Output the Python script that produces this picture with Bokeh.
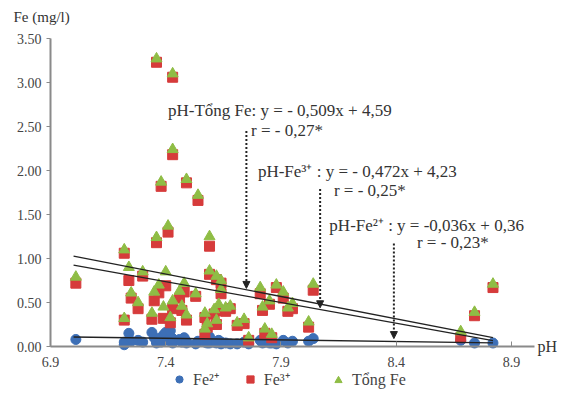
from bokeh.plotting import figure
from bokeh.models import (ColumnDataSource, Range1d, Legend, LegendItem, Label,
                          Arrow, NormalHead, FixedTicker, CustomJSTickFormatter)
from bokeh.embed import file_html
from bokeh.resources import INLINE

# ---- data ----
ph = [7.01, 7.22, 7.24, 7.25, 7.28, 7.22, 7.30, 7.35, 7.34, 7.36,
      7.36, 7.38, 7.39, 7.37, 7.40, 7.41, 7.42, 7.43, 7.43, 7.43,
      7.46, 7.48, 7.47, 7.49, 7.49, 7.53, 7.54, 7.57, 7.57, 7.59,
      7.59, 7.62, 7.61, 7.63, 7.64, 7.64, 7.58, 7.62, 7.66, 7.68,
      7.71, 7.74, 7.76, 7.81, 7.82, 7.83, 7.85, 7.86, 7.88, 7.91,
      7.93, 7.95, 8.04, 8.02, 8.68, 8.74, 8.82]
fe2 = [0.08, 0.05, 0.15, 0.06, 0.07, 0.02, 0.05, 0.10, 0.16, 0.04,
       0.06, 0.05, 0.13, 0.09, 0.16, 0.07, 0.18, 0.04, 0.06, 0.09,
       0.08, 0.10, 0.05, 0.04, 0.06, 0.03, 0.06, 0.06, 0.05, 0.11,
       0.04, 0.04, 0.05, 0.07, 0.05, 0.03, 0.04, 0.05, 0.04, 0.03,
       0.03, 0.05, 0.03, 0.07, 0.04, 0.05, 0.04, 0.04, 0.03, 0.07,
       0.04, 0.06, 0.09, 0.06, 0.07, 0.04, 0.04]
fe3 = [0.72, 1.06, 0.75, 0.55, 0.43, 0.30, 0.80, 0.52, 0.31, 3.23,
       1.18, 1.82, 0.32, 0.61, 0.69, 1.30, 0.27, 3.06, 2.18, 0.43,
       0.55, 0.62, 0.41, 1.86, 0.30, 0.57, 1.66, 0.14, 0.33, 1.14,
       0.82, 0.76, 0.37, 0.41, 0.60, 0.72, 0.22, 0.25, 0.40, 0.43,
       0.24, 0.26, 0.07, 0.60, 0.41, 0.15, 0.48, 0.10, 0.67, 0.55,
       0.40, 0.43, 0.64, 0.22, 0.10, 0.35, 0.67]
tong = [0.79, 1.10, 0.90, 0.61, 0.50, 0.32, 0.85, 0.62, 0.38, 3.27,
        1.24, 1.87, 0.45, 0.70, 0.85, 1.37, 0.33, 3.10, 2.24, 0.52,
        0.63, 0.72, 0.46, 1.90, 0.36, 0.60, 1.72, 0.20, 0.38, 1.25,
        0.86, 0.80, 0.42, 0.48, 0.65, 0.75, 0.26, 0.30, 0.44, 0.46,
        0.27, 0.31, 0.10, 0.67, 0.45, 0.20, 0.52, 0.14, 0.70, 0.62,
        0.44, 0.49, 0.71, 0.28, 0.17, 0.39, 0.71]

# regression lines (slope, intercept) and extents
reg_names = ["Tổng Fe", "Fe³⁺", "Fe²⁺"]
reg_slope = [-0.509, -0.472, -0.036]
reg_icpt = [4.59, 4.23, 0.36]
reg_x = [7.0, 8.82]

x_ticks = [6.9, 7.4, 7.9, 8.4, 8.9]
y_ticks = [0.0, 0.5, 1.0, 1.5, 2.0, 2.5, 3.0, 3.5]

# annotation texts
eq_lines = [
    ["pH-Tổng Fe: y = - 0,509x + 4,59", "r = - 0,27*"],
    ["pH-Fe³⁺ : y = - 0,472x + 4,23", "r = - 0,25*"],
    ["pH-Fe²⁺ : y = -0,036x + 0,36", "r = - 0,23*"],
]
eq_x = [7.41, 7.80, 8.11]
eq_y = [2.57, 1.88, 1.27]
r_x = [7.77, 8.13, 8.49]
r_y = [2.35, 1.67, 1.07]
arrow_x = [7.75, 8.07, 8.39]
arrow_top = [2.45, 1.79, 1.17]
arrow_end = [0.66, 0.44, 0.09]

FONT = "Liberation Serif"
BLUE = "#3d6fb6"
RED = "#d63b3b"
GREEN = "#8fbd45"

p = figure(width=557, height=396, output_backend="svg", toolbar_location=None,
           x_range=Range1d(6.683, 9.1), y_range=Range1d(-0.568, 3.932),
           min_border=0)
p.outline_line_color = None
p.xgrid.visible = False
p.ygrid.visible = False

src = ColumnDataSource(dict(ph=ph, fe2=fe2, fe3=fe3, tong=tong))
r_c = p.scatter("ph", "fe2", source=src, marker="circle", size=10,
                fill_color=BLUE, line_color=BLUE)
r_s = p.scatter("ph", "fe3", source=src, marker="square", size=10,
                fill_color=RED, line_color=RED)
r_t = p.scatter("ph", "tong", source=src, marker="triangle", size=11,
                fill_color=GREEN, line_color=GREEN)

for s, b in zip(reg_slope, reg_icpt):
    ys = [s * x + b for x in reg_x]
    p.line(reg_x, ys, line_color="#222222", line_width=1.3)

for i in range(3):
    p.add_layout(Arrow(x_start=arrow_x[i], y_start=arrow_top[i],
                       x_end=arrow_x[i], y_end=arrow_end[i],
                       line_color="#222222", line_width=2, line_dash="2 2",
                       end=NormalHead(size=7, fill_color="#222222",
                                      line_color="#222222")))
    p.add_layout(Label(x=eq_x[i], y=eq_y[i], text=eq_lines[i][0],
                       text_font=FONT, text_font_size="17px",
                       text_color="#333333", text_baseline="bottom"))
    p.add_layout(Label(x=r_x[i], y=r_y[i], text=eq_lines[i][1],
                       text_font=FONT, text_font_size="17px",
                       text_color="#333333", text_baseline="bottom"))

# axis titles
p.add_layout(Label(x=6.9, y=3.5, x_offset=-37, y_offset=14, text="Fe (mg/l)",
                   text_font=FONT, text_font_size="15px",
                   text_color="#333333", text_baseline="bottom"))
p.add_layout(Label(x=9.0, y=0, x_offset=3, text="pH", text_font=FONT,
                   text_font_size="16px", text_color="#333333",
                   text_baseline="middle"))

p.yaxis.ticker = FixedTicker(ticks=y_ticks)
p.yaxis.formatter = CustomJSTickFormatter(code="return tick.toFixed(2);")
p.yaxis.bounds = (0, 3.5)
p.yaxis.fixed_location = 6.9
p.xaxis.ticker = FixedTicker(ticks=x_ticks)
p.xaxis.formatter = CustomJSTickFormatter(code="return tick.toFixed(1);")
p.xaxis.bounds = (6.9, 9.0)
p.xaxis.fixed_location = 0
for ax in (p.xaxis[0], p.yaxis[0]):
    ax.axis_line_color = "#8a8a8a"
    ax.axis_line_width = 2
    ax.major_tick_line_color = "#8a8a8a"
    ax.minor_tick_line_color = None
    ax.major_label_text_font = FONT
    ax.major_label_text_font_size = "14px"
    ax.major_label_text_color = "#444444"
p.yaxis.major_tick_in = 0
p.yaxis.major_tick_out = 4
p.xaxis.major_tick_in = 5
p.xaxis.major_tick_out = 0
p.xaxis.major_label_standoff = 10

leg_common = dict(orientation="horizontal", label_text_font=FONT,
                  label_text_font_size="16px", label_text_color="#444444",
                  border_line_color=None, background_fill_alpha=0,
                  spacing=22, glyph_width=18, margin=0, padding=2)
legend1 = Legend(items=[LegendItem(label="Fe²⁺", renderers=[r_c]),
                        LegendItem(label="Fe³⁺", renderers=[r_s])],
                 location=(170, 6), **leg_common)
legend2 = Legend(items=[LegendItem(label="Tổng Fe", renderers=[r_t])],
                 location=(329, 6), **leg_common)
p.add_layout(legend1, "center")
p.add_layout(legend2, "center")

open("out.html", "w").write(file_html(p, INLINE))
